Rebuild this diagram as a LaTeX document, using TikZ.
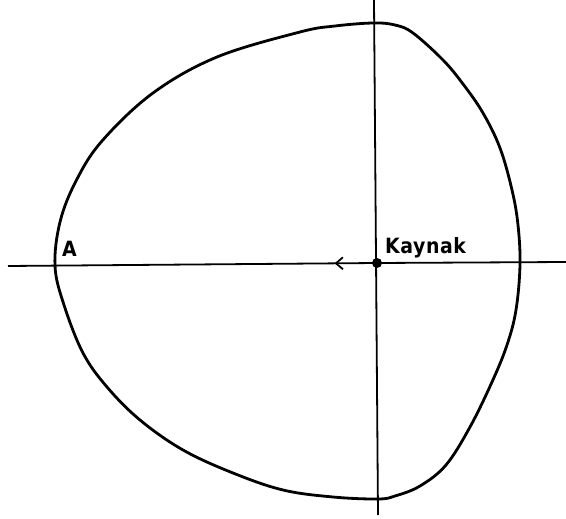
\documentclass[tikz,border=0pt]{standalone}
\usepackage{fontspec}
\newfontfamily\labelfont[LetterSpace=3]{DejaVu Sans Bold}
\usetikzlibrary{arrows.meta,decorations.markings}
\begin{document}
\begin{tikzpicture}[x=1pt,y=-1pt,
  axis/.style={line width=1.8pt,black},
  contour/.style={line width=2.8pt,black,line join=round},
  lbl/.style={font=\labelfont\fontsize{21}{21}\selectfont,inner sep=0pt,anchor=base west,xscale=0.9},
  srcdot/.style={circle,fill=black,inner sep=0pt,minimum size=10pt},
  midarrow/.style={postaction={decorate},decoration={markings,
     mark=at position #1 with {\arrow{Straight Barb[length=7pt,width=12pt,line width=1.8pt]}}}}]
\useasboundingbox (0,0) rectangle (566,519);
% axes
\coordinate (L) at (8,266);
\coordinate (R) at (566,262);
\coordinate (T) at (374,0);
\coordinate (B) at (378,515);
\node[srcdot] (src) at (377,263) {};
\draw[axis] (src.center) -- (R);
\draw[axis,midarrow=0.115] (src.center) -- (L);
\draw[axis] (T) -- (B);
% contour
\draw[contour] plot[smooth cycle,tension=0.6] coordinates {
(55,266) (60,222) (76,181) (102,141) (153,93) (217,57) (300,32) (335,26)
(373,23) (395,25) (413,33) (443,60) (463,84) (483,113) (500,148) (512,190)
(518,225) (520,265) (516,310) (507,345) (492,382) (470,427) (446,465)
(420,486) (395,496) (378,499) (333,497) (283,490) (233,473) (183,450) (140,420)
(107,387) (83,353) (64,305)};
% labels
\node[lbl] (kaynak) at (385,254) {Kaynak};
\node[lbl] (A) at (62,256) {A};
\end{tikzpicture}
\end{document}
